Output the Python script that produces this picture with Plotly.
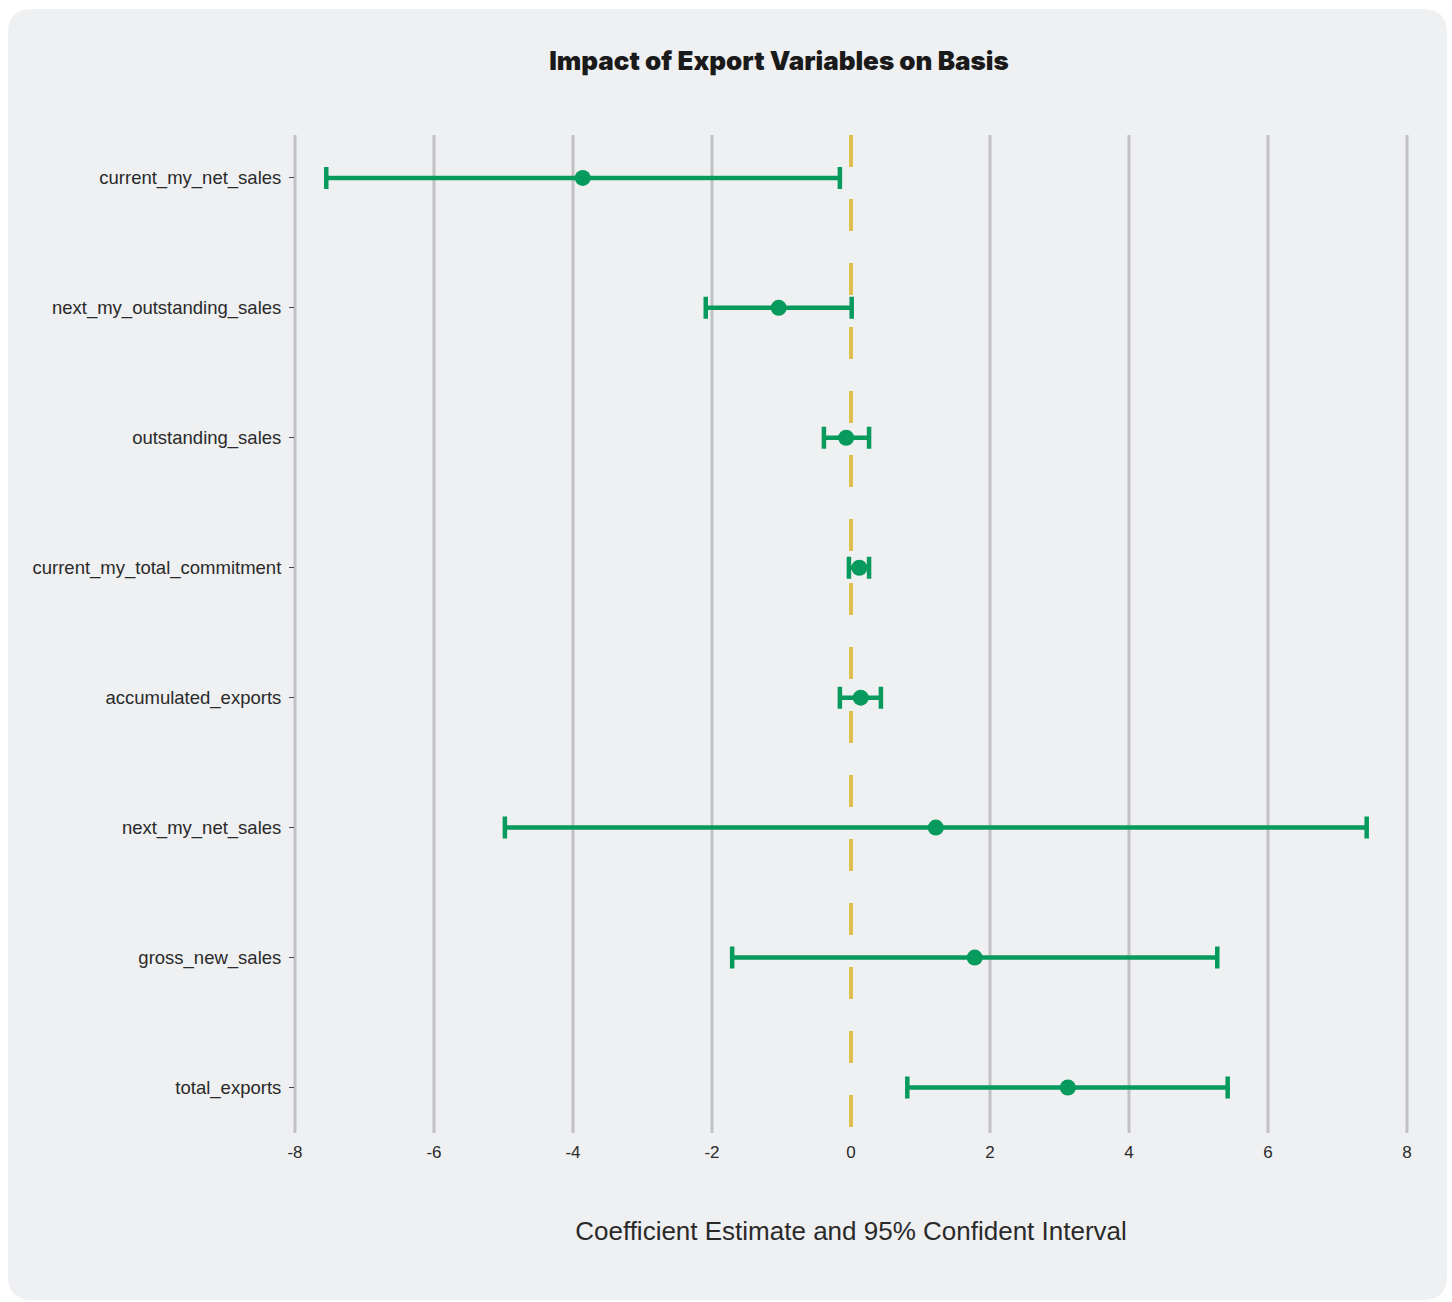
import plotly.graph_objects as go

variables = [
    "current_my_net_sales",
    "next_my_outstanding_sales",
    "outstanding_sales",
    "current_my_total_commitment",
    "accumulated_exports",
    "next_my_net_sales",
    "gross_new_sales",
    "total_exports",
]
estimates = [-3.86, -1.04, -0.07, 0.12, 0.14, 1.22, 1.78, 3.12]
ci_lower = [-7.55, -2.09, -0.39, -0.03, -0.16, -4.98, -1.71, 0.81]
ci_upper = [-0.16, 0.01, 0.26, 0.26, 0.43, 7.42, 5.27, 5.42]
x_ticks = [-8, -6, -4, -2, 0, 2, 4, 6, 8]
x_range = [-8, 8]
reference_x = 0

GREEN = "#079a5d"
YELLOW = "#dfc24e"
BG = "#eff0f2"
GRID = "#c2c2c4"

W, H = 1452, 1302
ML, MR, MT, MB = 295, 45, 135, 169
PW = W - ML - MR
PH = H - MT - MB


def px_to_paper(px, py):
    return (px - ML) / PW, (H - MB - py) / PH


def x_to_paper(v):
    return (v - x_range[0]) / (x_range[1] - x_range[0])


def rounded_rect_path(x0, y0, x1, y1, r):
    def P(cmd, *coords):
        out = []
        for i in range(0, len(coords), 2):
            a, b = px_to_paper(coords[i], coords[i + 1])
            out.append(f"{a:.5f},{b:.5f}")
        return cmd + " ".join(out)
    pts = [
        P("M", x0 + r, y0),
        P("L", x1 - r, y0),
        P("Q", x1, y0, x1, y0 + r),
        P("L", x1, y1 - r),
        P("Q", x1, y1, x1 - r, y1),
        P("L", x0 + r, y1),
        P("Q", x0, y1, x0, y1 - r),
        P("L", x0, y0 + r),
        P("Q", x0, y0, x0 + r, y0),
    ]
    return " ".join(pts) + " Z"


err_plus = [u - e for u, e in zip(ci_upper, estimates)]
err_minus = [e - l for e, l in zip(estimates, ci_lower)]

fig = go.Figure()
fig.add_trace(
    go.Scatter(
        x=estimates,
        y=variables,
        mode="markers",
        marker=dict(color=GREEN, size=16, symbol="circle"),
        error_x=dict(
            type="data",
            symmetric=False,
            array=err_plus,
            arrayminus=err_minus,
            color=GREEN,
            thickness=4.5,
            width=11,
        ),
        showlegend=False,
        cliponaxis=False,
    )
)

fig.add_shape(
    type="path",
    path=rounded_rect_path(8, 9, 1447, 1300, 24),
    xref="paper",
    yref="paper",
    fillcolor=BG,
    line=dict(width=0),
    layer="below",
)
for v in x_ticks:
    if v == reference_x:
        continue
    fig.add_shape(
        type="line",
        xref="paper",
        yref="paper",
        x0=x_to_paper(v),
        x1=x_to_paper(v),
        y0=0,
        y1=1,
        line=dict(color=GRID, width=3),
        layer="below",
    )
fig.add_shape(
    type="line",
    xref="x",
    yref="paper",
    x0=reference_x,
    x1=reference_x,
    y0=1,
    y1=0,
    line=dict(color=YELLOW, width=4, dash="32px,32px"),
    layer="below",
)

fig.update_layout(
    width=W,
    height=H,
    margin=dict(l=ML, r=MR, t=MT, b=MB),
    paper_bgcolor="white",
    plot_bgcolor="rgba(0,0,0,0)",
    font=dict(family="Liberation Sans, Arial, sans-serif", color="#2a2a2a", size=18),
    title=dict(
        text="Impact of Export Variables on Basis",
        x=779 / W,
        xref="container",
        xanchor="center",
        y=1 - 61 / H,
        yref="container",
        yanchor="middle",
        font=dict(family="Inter, sans-serif", size=26, weight=900, color="#1a1a1a"),
    ),
    xaxis=dict(
        range=x_range,
        tickvals=x_ticks,
        ticktext=[str(v) for v in x_ticks],
        showgrid=False,
        zeroline=False,
        showline=False,
        ticks="",
        ticklabelstandoff=7,
        tickfont=dict(size=17, color="#2a2a2a"),
        title=dict(
            text="Coefficient Estimate and 95% Confident Interval",
            font=dict(size=26, color="#2a2a2a"),
            standoff=60,
        ),
    ),
    yaxis=dict(
        type="category",
        categoryorder="array",
        categoryarray=variables,
        range=[7.35, -0.33],
        showgrid=False,
        zeroline=False,
        showline=False,
        ticks="outside",
        ticklen=5,
        tickwidth=1,
        tickcolor="#444",
        ticklabelstandoff=4,
        tickfont=dict(size=18.5, color="#2a2a2a"),
    ),
)

fig.write_html("out.html")
